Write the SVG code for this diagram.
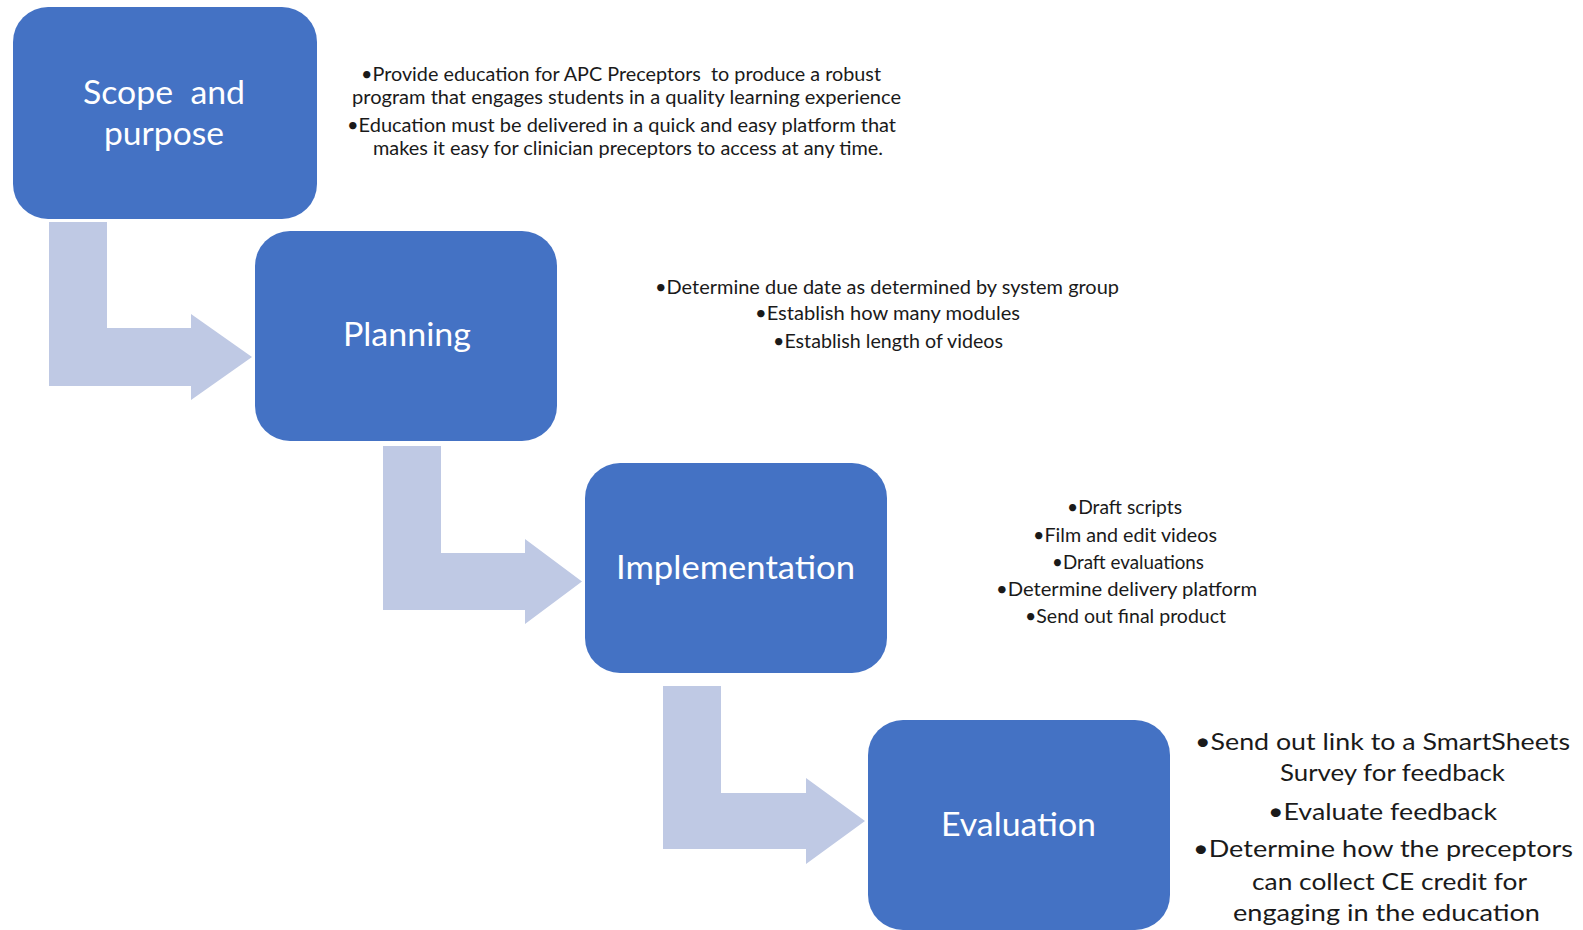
<svg xmlns="http://www.w3.org/2000/svg" width="1583" height="930" viewBox="0 0 1583 930">
<style>
.box{fill:#4472C4;}
.arrow{fill:#BFC9E4;}
.lbl{font-family:Lato,"Liberation Sans",sans-serif;font-size:32px;fill:#FFFFFF;white-space:pre;}
.d{font-family:Lato,"Liberation Sans",sans-serif;font-size:18.5px;fill:#1a1a1a;white-space:pre;}
.d2{font-family:Lato,"Liberation Sans",sans-serif;font-size:24px;fill:#1a1a1a;white-space:pre;}
</style>
<rect width="1583" height="930" fill="#FFFFFF"/>
<g id="connectors">
<path class="arrow" d="M49,222 H107 V328 H191 V314 L252,357 L191,400 V386 H49 Z"/>
<path class="arrow" d="M383,446 H441 V553 H525 V539 L582,581.5 L525,624 V610 H383 Z"/>
<path class="arrow" d="M663,686 H721 V793 H806 V778 L865,821 L806,864 V849 H663 Z"/>
</g>
<g id="node-scope">
<rect class="box" x="13" y="7" width="304" height="212" rx="35"/>
<text class="lbl" x="83" y="104" textLength="162" lengthAdjust="spacingAndGlyphs" xml:space="preserve">Scope  and</text>
<text class="lbl" x="104" y="145" textLength="120" lengthAdjust="spacingAndGlyphs">purpose</text>
</g>
<g id="node-planning">
<rect class="box" x="255" y="231" width="302" height="210" rx="35"/>
<text class="lbl" x="343" y="346" textLength="128" lengthAdjust="spacingAndGlyphs">Planning</text>
</g>
<g id="node-implementation">
<rect class="box" x="585" y="463" width="302" height="210" rx="35"/>
<text class="lbl" x="616" y="579" textLength="239" lengthAdjust="spacingAndGlyphs">Implementation</text>
</g>
<g id="node-evaluation">
<rect class="box" x="868" y="720" width="302" height="210" rx="35"/>
<text class="lbl" x="941" y="836" textLength="155" lengthAdjust="spacingAndGlyphs">Evaluation</text>
</g>
<g id="notes-scope">
<text class="d" x="361" y="81" textLength="520" lengthAdjust="spacingAndGlyphs" xml:space="preserve">•Provide education for APC Preceptors  to produce a robust</text>
<text class="d" x="352" y="104" textLength="549" lengthAdjust="spacingAndGlyphs">program that engages students in a quality learning experience</text>
<text class="d" x="347" y="132" textLength="549" lengthAdjust="spacingAndGlyphs">•Education must be delivered in a quick and easy platform that</text>
<text class="d" x="373" y="155" textLength="510" lengthAdjust="spacingAndGlyphs">makes it easy for clinician preceptors to access at any time.</text>
</g>
<g id="notes-planning">
<text class="d" x="655" y="294" textLength="464" lengthAdjust="spacingAndGlyphs">•Determine due date as determined by system group</text>
<text class="d" x="755" y="320" textLength="265" lengthAdjust="spacingAndGlyphs">•Establish how many modules</text>
<text class="d" x="773" y="348" textLength="230" lengthAdjust="spacingAndGlyphs">•Establish length of videos</text>
</g>
<g id="notes-implementation">
<text class="d" x="1067" y="514" textLength="115" lengthAdjust="spacingAndGlyphs">•Draft scripts</text>
<text class="d" x="1033" y="542" textLength="184" lengthAdjust="spacingAndGlyphs">•Film and edit videos</text>
<text class="d" x="1052" y="569" textLength="152" lengthAdjust="spacingAndGlyphs">•Draft evaluations</text>
<text class="d" x="996" y="596" textLength="261" lengthAdjust="spacingAndGlyphs">•Determine delivery platform</text>
<text class="d" x="1025" y="623" textLength="201" lengthAdjust="spacingAndGlyphs">•Send out final product</text>
</g>
<g id="notes-evaluation">
<text class="d2" x="1195" y="750" textLength="375" lengthAdjust="spacingAndGlyphs">•Send out link to a SmartSheets</text>
<text class="d2" x="1280" y="781" textLength="225" lengthAdjust="spacingAndGlyphs">Survey for feedback</text>
<text class="d2" x="1268" y="820" textLength="229" lengthAdjust="spacingAndGlyphs">•Evaluate feedback</text>
<text class="d2" x="1193" y="857" textLength="380" lengthAdjust="spacingAndGlyphs">•Determine how the preceptors</text>
<text class="d2" x="1252" y="890" textLength="275" lengthAdjust="spacingAndGlyphs">can collect CE credit for</text>
<text class="d2" x="1233" y="921" textLength="307" lengthAdjust="spacingAndGlyphs">engaging in the education</text>
</g>
</svg>
